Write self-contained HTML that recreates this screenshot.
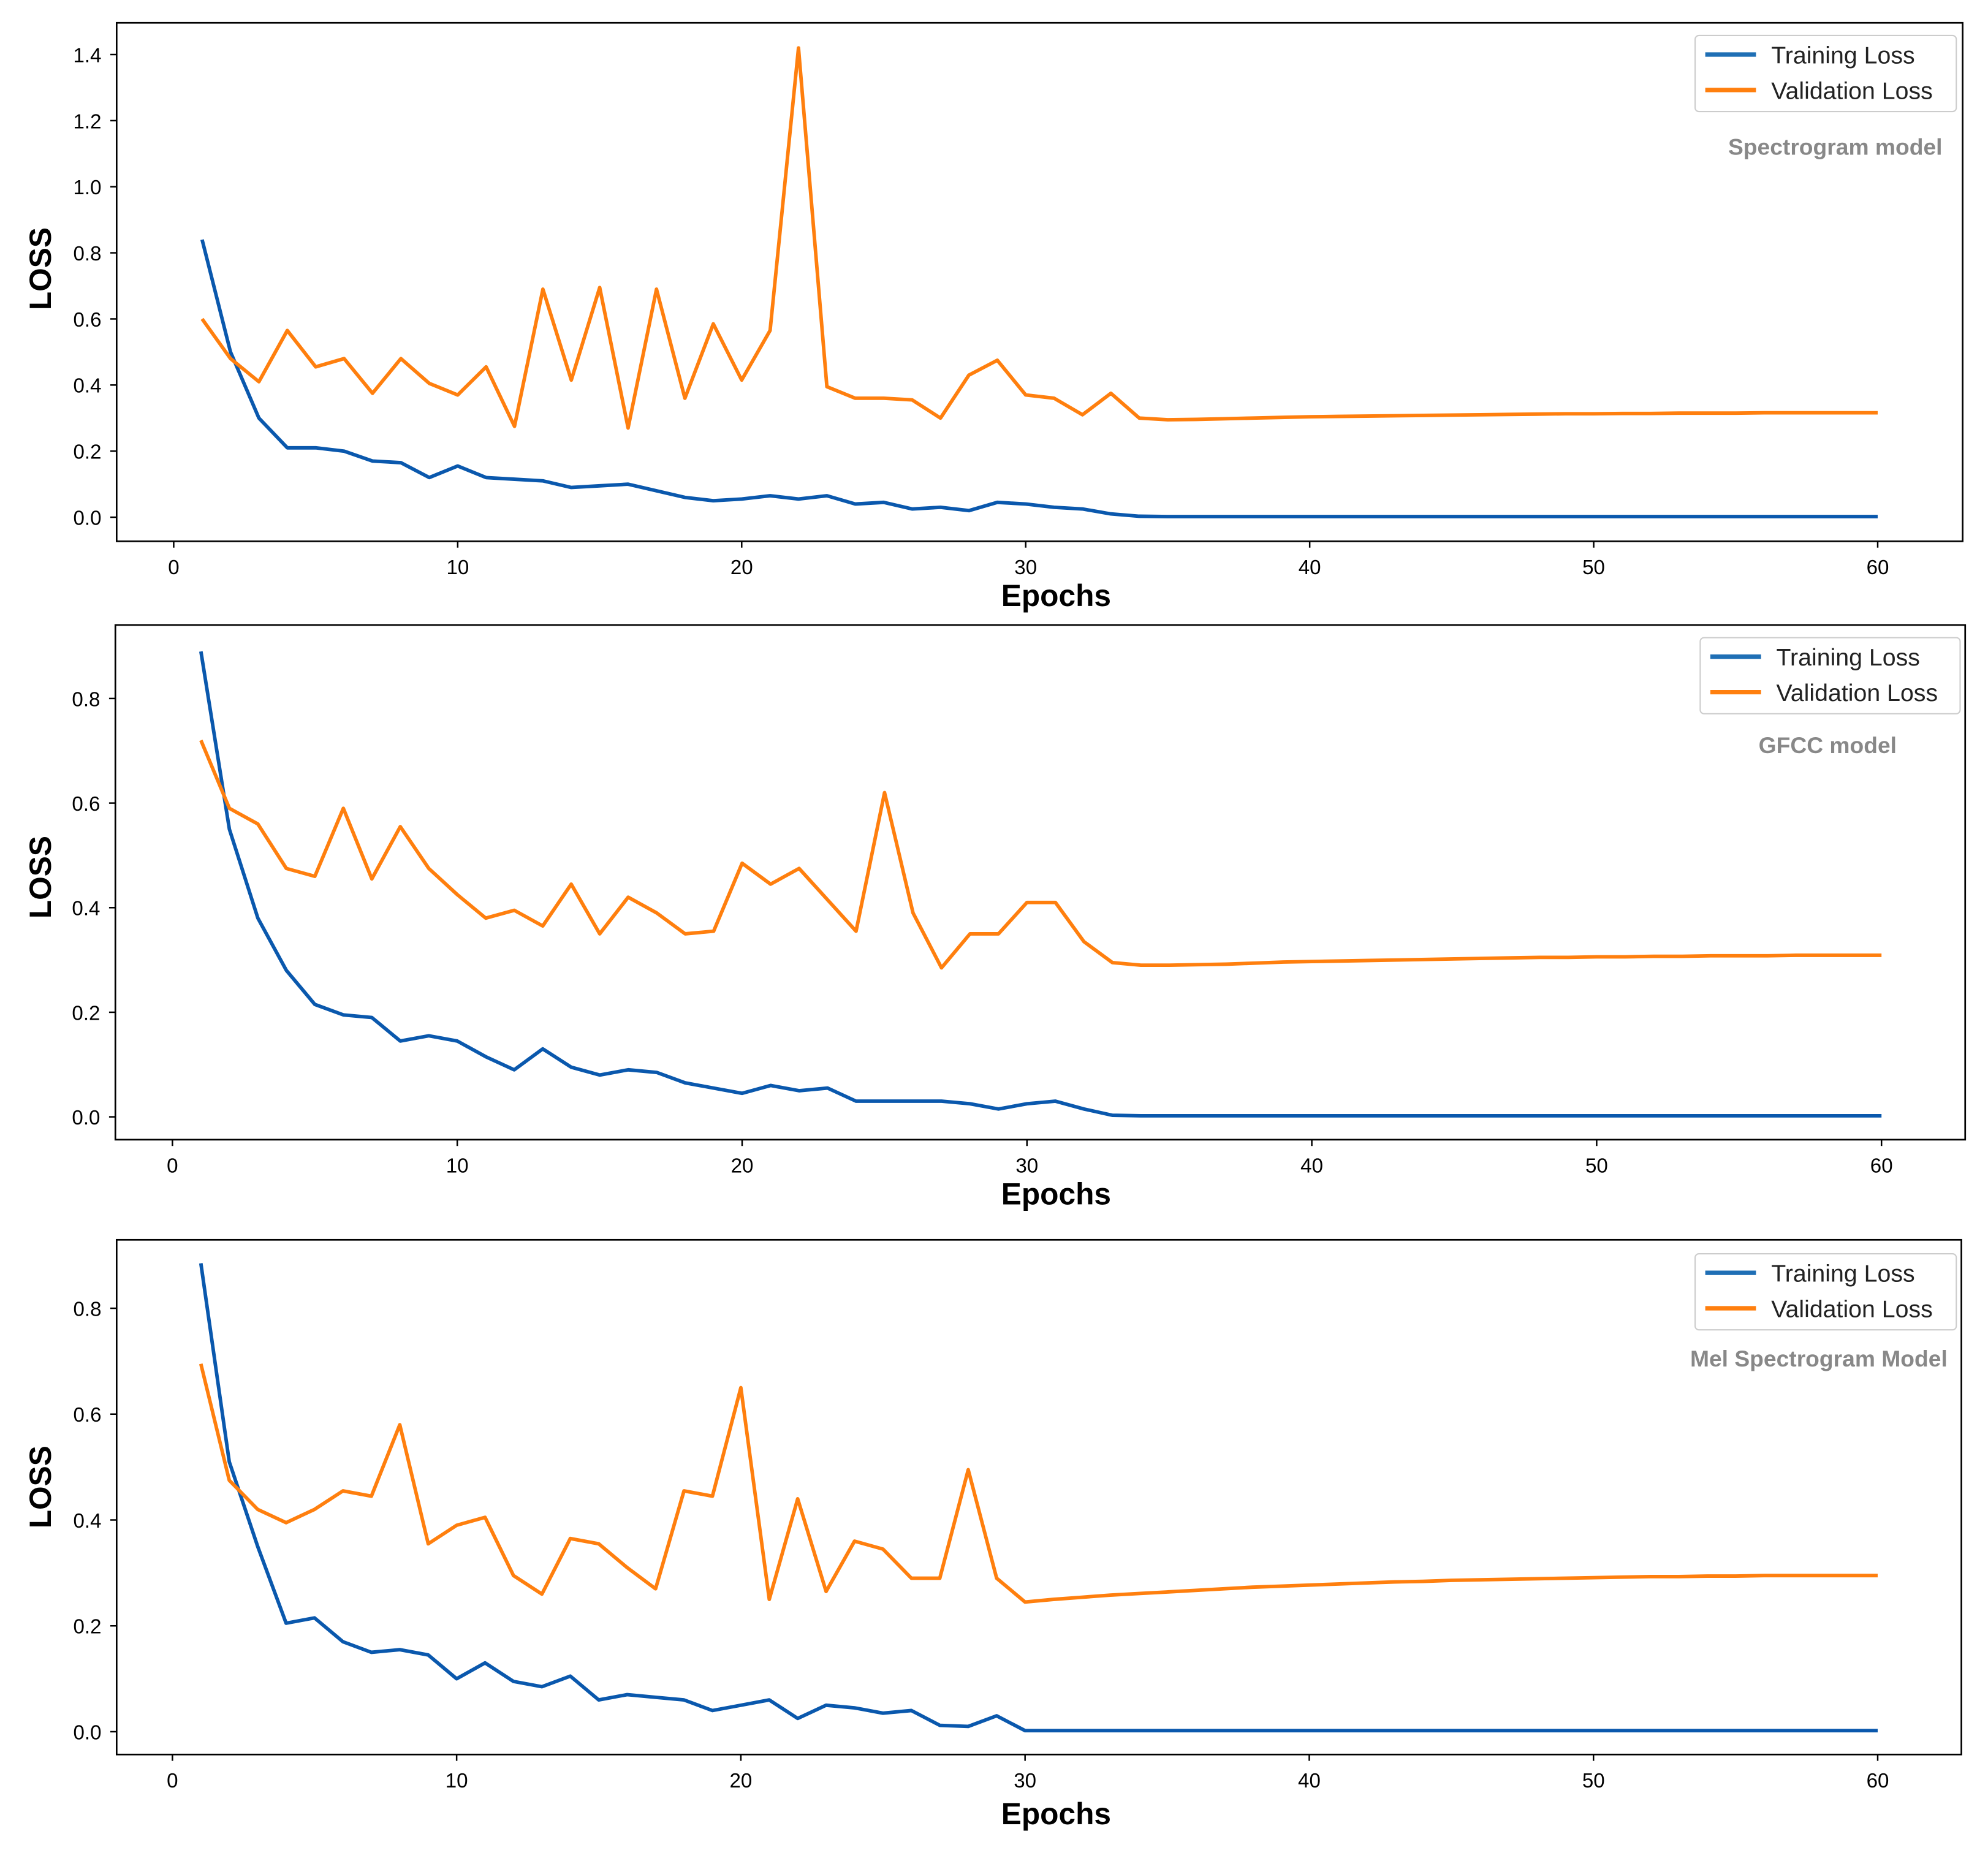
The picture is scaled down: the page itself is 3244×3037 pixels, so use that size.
<!DOCTYPE html>
<html><head><meta charset="utf-8">
<style>
html,body{margin:0;padding:0;background:#fff;}
svg{display:block;}
text{font-family:"Liberation Sans",sans-serif;}
</style></head>
<body>
<svg id="chart" width="3244" height="3037" viewBox="0 0 1568 1468" preserveAspectRatio="none" xmlns="http://www.w3.org/2000/svg"></svg>
<script>
const epochs = Array.from({length:60},(_,i)=>i+1);
const xTicks = [0,10,20,30,40,50,60];
const spectroTrain = [0.84,0.5,0.3,0.21,0.21,0.2,0.17,0.165,0.12,0.155,0.12,0.115,0.11,0.09,0.095,0.1,0.08,0.06,0.05,0.055,0.065,0.055,0.065,0.04,0.045,0.025,0.03,0.02,0.045,0.04,0.03,0.025,0.01,0.003,0.002,0.002,0.002,0.002,0.002,0.002,0.002,0.002,0.002,0.002,0.002,0.002,0.002,0.002,0.002,0.002,0.002,0.002,0.002,0.002,0.002,0.002,0.002,0.002,0.002,0.002];
const spectroVal = [0.6,0.48,0.41,0.565,0.455,0.48,0.375,0.48,0.405,0.37,0.455,0.275,0.69,0.415,0.695,0.27,0.69,0.36,0.585,0.415,0.565,1.42,0.395,0.36,0.36,0.355,0.3,0.43,0.475,0.37,0.36,0.31,0.375,0.3,0.295,0.296,0.298,0.300,0.302,0.304,0.305,0.306,0.307,0.308,0.309,0.310,0.311,0.312,0.313,0.313,0.314,0.314,0.315,0.315,0.315,0.316,0.316,0.316,0.316,0.316];
const spectroYTicks = [0.0,0.2,0.4,0.6,0.8,1.0,1.2,1.4];
const gfccTrain = [0.89,0.55,0.38,0.28,0.215,0.195,0.19,0.145,0.155,0.145,0.115,0.09,0.13,0.095,0.08,0.09,0.085,0.065,0.055,0.045,0.06,0.05,0.055,0.03,0.03,0.03,0.03,0.025,0.015,0.025,0.03,0.015,0.003,0.002,0.002,0.002,0.002,0.002,0.002,0.002,0.002,0.002,0.002,0.002,0.002,0.002,0.002,0.002,0.002,0.002,0.002,0.002,0.002,0.002,0.002,0.002,0.002,0.002,0.002,0.002];
const gfccVal = [0.72,0.59,0.56,0.475,0.46,0.59,0.455,0.555,0.475,0.425,0.38,0.395,0.365,0.445,0.35,0.42,0.39,0.35,0.355,0.485,0.445,0.475,0.415,0.355,0.62,0.39,0.285,0.35,0.35,0.41,0.41,0.335,0.295,0.29,0.29,0.291,0.292,0.294,0.296,0.297,0.298,0.299,0.300,0.301,0.302,0.303,0.304,0.305,0.305,0.306,0.306,0.307,0.307,0.308,0.308,0.308,0.309,0.309,0.309,0.309];
const gfccYTicks = [0.0,0.2,0.4,0.6,0.8];
const melTrain = [0.885,0.51,0.35,0.205,0.215,0.17,0.15,0.155,0.145,0.1,0.13,0.095,0.085,0.105,0.06,0.07,0.065,0.06,0.04,0.05,0.06,0.025,0.05,0.045,0.035,0.04,0.012,0.01,0.03,0.002,0.002,0.002,0.002,0.002,0.002,0.002,0.002,0.002,0.002,0.002,0.002,0.002,0.002,0.002,0.002,0.002,0.002,0.002,0.002,0.002,0.002,0.002,0.002,0.002,0.002,0.002,0.002,0.002,0.002,0.002];
const melVal = [0.695,0.475,0.42,0.395,0.42,0.455,0.445,0.58,0.355,0.39,0.405,0.295,0.26,0.365,0.355,0.31,0.27,0.455,0.445,0.65,0.25,0.44,0.265,0.36,0.345,0.29,0.29,0.495,0.29,0.245,0.25,0.254,0.258,0.261,0.264,0.267,0.27,0.273,0.275,0.277,0.279,0.281,0.283,0.284,0.286,0.287,0.288,0.289,0.29,0.291,0.292,0.293,0.293,0.294,0.294,0.295,0.295,0.295,0.295,0.295];
const melYTicks = [0.0,0.2,0.4,0.6,0.8];

const NS='http://www.w3.org/2000/svg';
const svg=document.getElementById('chart');
function mk(tag,attrs,parent,txt){const e=document.createElementNS(NS,tag);for(const k in attrs)e.setAttribute(k,attrs[k]);if(txt!==undefined)e.textContent=txt;parent.appendChild(e);return e;}

const panels=[
 {name:'spectrogram',box:[92,18,1548,427],x0:137,x60:1481,y0:408,yPerUnit:260.7,train:spectroTrain,val:spectroVal,ticks:spectroYTicks,leg:[1337,28,1543,88],label:'Spectrogram model',labX:1532,labY:122,lossY:212,epochsY:478},
 {name:'gfcc',box:[91,493,1550,899],x0:136,x60:1484,y0:881,yPerUnit:412.5,train:gfccTrain,val:gfccVal,ticks:gfccYTicks,leg:[1341,503,1546,563],label:'GFCC model',labX:1496,labY:594,lossY:692,epochsY:950},
 {name:'mel-spectrogram',box:[92,978,1547,1384],x0:136,x60:1481,y0:1366,yPerUnit:417.5,train:melTrain,val:melVal,ticks:melYTicks,leg:[1337,989,1543,1049],label:'Mel Spectrogram Model',labX:1536,labY:1078,lossY:1173,epochsY:1439}
];

panels.forEach(p=>{
 const g=mk('g',{},svg);
 
 
 const xs=v=>p.x0+(p.x60-p.x0)*v/60;
 const ys=v=>p.y0-p.yPerUnit*v;
 const [l,t,r,b]=p.box;
 const mkLine=(arr,color,nm)=>{
  const pts=arr.map((v,i)=>xs(epochs[i]).toFixed(2)+','+ys(v).toFixed(2)).join(' ');
  const pl=mk('polyline',{points:pts,fill:'none',stroke:color,'stroke-width':2.8,'stroke-linejoin':'round'},g);
  
  
 };
 mkLine(p.train,'#0a58ad','training-loss-line');
 mkLine(p.val,'#ff7f0e','validation-loss-line');
 const fr=mk('rect',{x:l,y:t,width:r-l,height:b-t,fill:'none',stroke:'#000','stroke-width':1.3},g);
 
 
 xTicks.forEach(v=>{
  mk('line',{x1:xs(v),x2:xs(v),y1:b,y2:b+5,stroke:'#000','stroke-width':1.2},g);
  const tx=mk('text',{x:xs(v),y:b+26,'text-anchor':'middle','font-size':16},g,String(v));
  
  
 });
 p.ticks.forEach(v=>{
  mk('line',{x1:l-5,x2:l,y1:ys(v),y2:ys(v),stroke:'#000','stroke-width':1.2},g);
  const tx=mk('text',{x:l-12,y:ys(v)+6,'text-anchor':'end','font-size':16},g,v.toFixed(1));
  
  
 });
 const xt=mk('text',{x:833,y:p.epochsY,'text-anchor':'middle','font-size':24,'font-weight':'bold'},g,'Epochs');
 
 
 const yt=mk('text',{x:0,y:0,'text-anchor':'middle','font-size':24,'font-weight':'bold',transform:'translate(40,'+p.lossY+') rotate(-90)'},g,'LOSS');
 
 
 const [lx,ly,lr,lb]=p.leg;
 const lg=mk('g',{},g);
 
 
 mk('rect',{x:lx,y:ly,width:lr-lx,height:lb-ly,fill:'#fff',stroke:'#ccc','stroke-width':1,rx:3},lg);
 mk('line',{x1:lx+8,x2:lx+48,y1:ly+15,y2:ly+15,stroke:'#1f6fb5','stroke-width':3.5},lg);
 const t1=mk('text',{x:lx+60,y:ly+22,'font-size':19,fill:'#222'},lg,'Training Loss');
 
 
 mk('line',{x1:lx+8,x2:lx+48,y1:ly+43,y2:ly+43,stroke:'#ff7f0e','stroke-width':3.5},lg);
 const t2=mk('text',{x:lx+60,y:ly+50,'font-size':19,fill:'#222'},lg,'Validation Loss');
 
 
 const ml=mk('text',{x:p.labX,y:p.labY,'text-anchor':'end','font-size':18,'font-weight':'bold',fill:'#888'},g,p.label);
 
 
});
</script>
</body></html>
